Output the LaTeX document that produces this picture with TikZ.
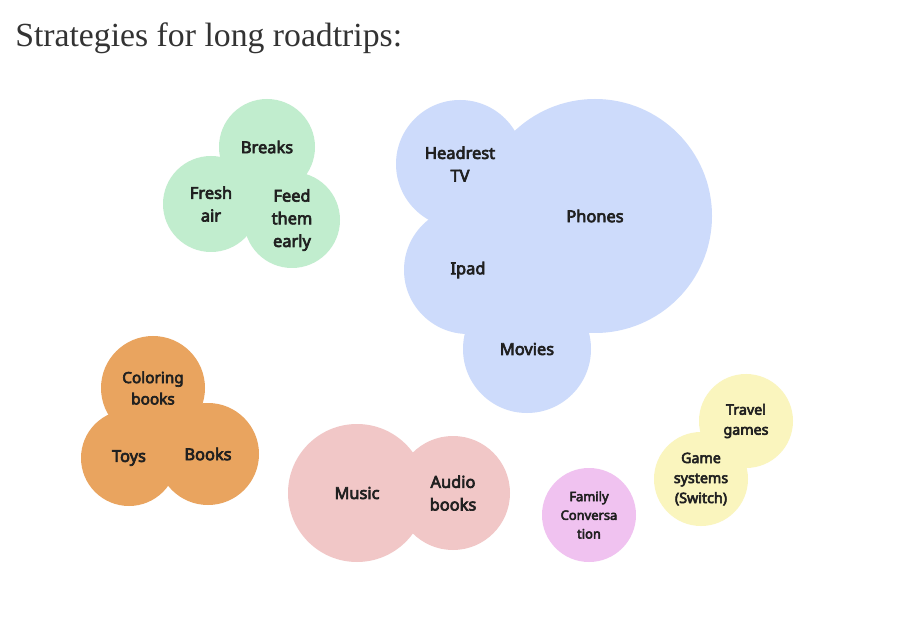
\documentclass[tikz,border=0pt]{standalone}
\usepackage{fontspec}
\setmainfont{Liberation Serif}
\newfontfamily\bubfont{Noto Sans}[AutoFakeBold=4]
\definecolor{mint}{RGB}{193,237,206}
\definecolor{sky}{RGB}{205,219,251}
\definecolor{apricot}{RGB}{233,164,95}
\definecolor{rose}{RGB}{241,199,199}
\definecolor{orchid}{RGB}{240,194,240}
\definecolor{lemon}{RGB}{250,245,190}
\definecolor{ink}{RGB}{32,32,32}

\begin{document}
\begin{tikzpicture}[x=0.75pt,y=-0.75pt,
  bub/.style={circle,inner sep=0pt,minimum size={#1*1.5pt},align=center,
    text=ink,font=\bubfont\bfseries\fontsize{12.3}{17}\selectfont},
  small/.style={font=\bubfont\bfseries\fontsize{10.7}{15}\selectfont},
  tiny/.style={font=\bubfont\bfseries\fontsize{9.7}{14}\selectfont}]
\useasboundingbox[fill=white] (0,0) rectangle (908,624);
\node[anchor=base west,inner sep=0pt,text=black!80,font=\fontsize{25.3}{30}\selectfont]
  (title) at (15,47) {Strategies for long roadtrips:};
% green group
\node[bub=48,fill=mint] (breaks) at (267,147) {Breaks};
\node[bub=48,fill=mint] (fresh) at (211,204) {Fresh\\air};
\node[bub=48,fill=mint] (feed) at (292,220) {Feed\\them\\early};
% blue group
\node[bub=117,fill=sky] (phones) at (595,216) {Phones};
\node[bub=64,fill=sky] (headrest) at (460,164) {Headrest\\TV};
\node[bub=64,fill=sky] (ipad) at (468,270) {Ipad};
\node[bub=64,fill=sky] (movies) at (527,349) {Movies};
% orange group
\node[bub=52,fill=apricot,font=\bubfont\bfseries\fontsize{11.5}{16}\selectfont]
  (coloring) at (153,388) {Coloring\\books};
\node[bub=48,fill=apricot] (toys) at (129,458) {Toys};
\node[bub=51,fill=apricot] (books) at (208,454) {Books};
% pink group
\node[bub=69,fill=rose] (music) at (357,493) {Music};
\node[bub=57,fill=rose] (audio) at (453,493) {Audio\\books};
% purple
\node[bub=47,fill=orchid,tiny] (family) at (589,515) {Family\\Conversa\\tion};
% yellow group
\node[bub=47,fill=lemon,small] (travel) at (746,421) {Travel\\games};
\node[bub=47,fill=lemon,small] (game) at (701,479) {Game\\systems\\(Switch)};
\end{tikzpicture}
\end{document}
